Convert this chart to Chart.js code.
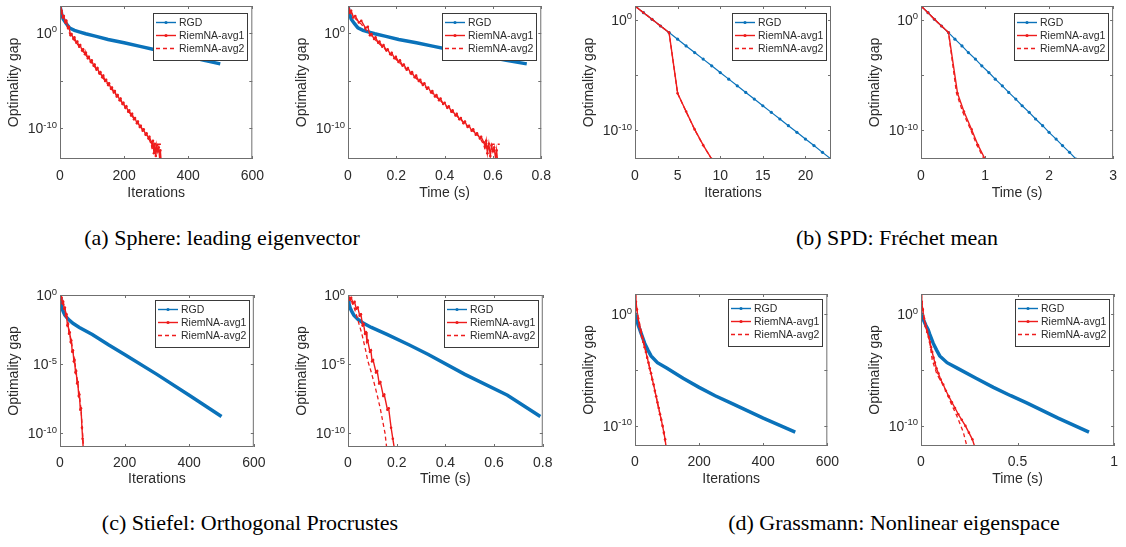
<!DOCTYPE html>
<html>
<head>
<meta charset="utf-8">
<script src="https://cdn.jsdelivr.net/npm/chart.js@4.4.1/dist/chart.umd.min.js"></script>
<style>
  body { margin: 0; background: #fff; }
  #fig { position: relative; width: 1126px; height: 547px; overflow: hidden; }
  #fig canvas { position: absolute; }
  .cap { position: absolute; width: 600px; text-align: center; font-family: "Liberation Serif", serif;
         font-size: 22px; line-height: 26px; color: #000; white-space: nowrap; }
</style>
</head>
<body>
<div id="fig"></div>
<script>
// ---- (a) Sphere: leading eigenvector ----
const sphereRgdIter = [0, 5, 10, 20, 30, 45, 60, 80, 110, 150, 200, 250, 300, 350, 400, 450, 500];
const sphereRgdTime = [0, 0.006, 0.013, 0.027, 0.041, 0.062, 0.083, 0.111, 0.153, 0.21, 0.283, 0.355, 0.428, 0.5, 0.575, 0.655, 0.74];
const sphereRgdGap = [630, 100, 28, 8.9, 3.2, 1.8, 1.26, 0.79, 0.45, 0.2, 0.089, 0.038, 0.016, 7.1e-3, 3.2e-3, 1.3e-3, 5.6e-4];

const sphereAvg1Iter = [0, 3, 5, 9, 12, 17, 20, 25, 28,
  33, 36, 42, 45, 51, 54, 60, 63, 69, 72,
  78, 81, 87, 90, 96, 99, 105, 108, 114, 117,
  123, 126, 132, 135, 141, 144, 150, 153, 159, 162,
  168, 171, 177, 180, 186, 189, 195, 198, 204, 207,
  213, 216, 222, 225, 231, 234, 240, 243, 249, 252,
  258, 261, 267, 270, 276, 279, 285,
  288, 290, 293, 296, 299, 302, 305, 308, 311, 313, 316];
const sphereAvg1Time = [0, 0.008, 0.013, 0.022, 0.03, 0.045, 0.055, 0.072, 0.082,
  0.091, 0.097, 0.108, 0.114, 0.125, 0.13, 0.142, 0.147, 0.159, 0.164,
  0.175, 0.181, 0.192, 0.198, 0.209, 0.215, 0.226, 0.231, 0.243, 0.248,
  0.26, 0.265, 0.276, 0.282, 0.293, 0.299, 0.31, 0.316, 0.327, 0.332,
  0.344, 0.349, 0.36, 0.366, 0.377, 0.383, 0.394, 0.4, 0.411, 0.417,
  0.428, 0.433, 0.445, 0.45, 0.461, 0.467, 0.478, 0.484, 0.495, 0.501,
  0.512, 0.518, 0.529, 0.534, 0.546, 0.551, 0.562,
  0.568, 0.572, 0.577, 0.583, 0.589, 0.594, 0.6, 0.605, 0.611, 0.615, 0.62];
const sphereAvg1Gap = [630, 126, 200, 40, 56, 12, 18, 3.2, 4.2,
  0.56, 0.75, 0.22, 0.33, 0.09, 0.12, 0.035, 0.052, 0.014, 0.019,
  5.6e-3, 8.1e-3, 2.2e-3, 3.1e-3, 8.9e-4, 1.3e-3, 3.5e-4, 4.8e-4, 1.4e-4, 2.1e-4,
  5.6e-5, 7.6e-5, 2.2e-5, 3.3e-5, 8.9e-6, 1.2e-5, 3.5e-6, 5.2e-6, 1.4e-6, 1.9e-6,
  5.6e-7, 8.1e-7, 2.2e-7, 3.1e-7, 8.9e-8, 1.3e-7, 3.5e-8, 4.8e-8, 1.4e-8, 2.1e-8,
  5.6e-9, 7.6e-9, 2.2e-9, 3.3e-9, 8.9e-10, 1.2e-9, 3.5e-10, 5.2e-10, 1.4e-10, 1.9e-10,
  5.6e-11, 8.1e-11, 2.2e-11, 3.1e-11, 8.9e-12, 1.3e-11, 3.5e-12,
  1.3e-12, 5e-12, 2.5e-13, 2.5e-12, 1.3e-13, 1.6e-12, 4e-13, 1e-12, 6.3e-14, 5e-13, 2.5e-14];

const sphereAvg2Iter = [0, 10, 20, 30, 50, 75, 100, 130, 160, 190, 220, 250, 275, 285, 288, 296, 320];
const sphereAvg2Time = [0, 0.025, 0.055, 0.088, 0.123, 0.17, 0.216, 0.273, 0.329, 0.385, 0.441, 0.497, 0.544, 0.562, 0.568, 0.583, 0.628];
const sphereAvg2Gap = [630, 40, 8, 0.8, 0.1, 7.9e-3, 6.3e-4, 2.8e-5, 1.4e-6, 7e-8, 3.2e-9, 1.6e-10, 1.26e-11, 2e-12, 5e-13, 2.2e-12, 2.2e-12];
const sphereGapLim = [6.3e-14, 631];

// ---- (b) SPD: Frechet mean ----
const spdRgdIter = [0, 1, 2, 3, 4, 5, 6, 7, 8, 9, 10, 11, 12, 13, 14, 15, 16, 17, 18, 19, 20, 21, 22, 23];
const spdRgdTime = [0, 0.11, 0.21, 0.32, 0.43, 0.53, 0.64, 0.74, 0.85, 0.95, 1.06, 1.16, 1.27, 1.37, 1.48, 1.58, 1.69, 1.79, 1.9, 2.0, 2.11, 2.21, 2.32, 2.42];
const spdRgdGap = [18.2, 4.5, 1.13, 0.28, 0.071, 0.018, 4.4e-3, 1.1e-3, 2.8e-4, 6.9e-5, 1.7e-5, 4.3e-6, 1.07e-6, 2.7e-7, 6.7e-8, 1.67e-8, 4.2e-9, 1.05e-9, 2.6e-10, 6.5e-11, 1.6e-11, 4.1e-12, 1.0e-12, 2.5e-13];
const spdAvg1Iter = [0, 1, 2, 3, 4, 5, 6, 7, 8, 9];
const spdAvg1Time = [0, 0.11, 0.21, 0.32, 0.43, 0.57, 0.67, 0.79, 0.89, 1.0];
const spdAvg1Gap = [18.2, 4.5, 1.13, 0.28, 0.071, 2.3e-7, 5e-9, 1.2e-10, 4.5e-12, 2.5e-13];
const spdAvg2Iter = [0, 1, 2, 3, 4, 5, 6, 7, 8, 9];
const spdAvg2Time = [0, 0.11, 0.21, 0.32, 0.43, 0.555, 0.65, 0.775, 0.875, 0.985];
const spdAvg2Gap = [18.2, 4.5, 1.13, 0.28, 0.071, 2.2e-7, 4.8e-9, 1.15e-10, 4.3e-12, 2.4e-13];
const spdGapLim = [2.5e-13, 18.2];

// ---- (c) Stiefel: Orthogonal Procrustes ----
const stiefelRgdIter = [0, 3, 6, 10, 15, 25, 40, 60, 100, 150, 200, 300, 400, 500];
const stiefelRgdTime = [0, 0.004, 0.009, 0.016, 0.024, 0.04, 0.064, 0.096, 0.16, 0.25, 0.33, 0.48, 0.655, 0.79];
const stiefelRgdGap = [0.63, 0.25, 0.112, 0.063, 0.035, 0.018, 8.9e-3, 4.5e-3, 1.4e-3, 2.5e-4, 5e-5, 1.8e-6, 5.6e-8, 1.6e-9];
const stiefelAvg1Iter = [0, 3, 5, 8, 10, 13, 15, 18, 20, 23, 25, 28, 30, 33, 35, 38, 40, 43, 45, 48, 50, 53, 55, 58, 60, 63, 65, 68, 70, 73];
const stiefelAvg1Time = [0, 0.008, 0.013, 0.021, 0.027, 0.034, 0.04, 0.048, 0.053, 0.06, 0.064, 0.07, 0.074, 0.078, 0.081,
  0.09, 0.094, 0.099, 0.103, 0.115, 0.12, 0.128, 0.133, 0.145, 0.149, 0.162, 0.167, 0.177, 0.184, 0.194];
const stiefelAvg1Gap = [1.0, 0.45, 0.63, 0.25, 0.32, 0.1, 0.126, 0.032, 0.04, 6.3e-3, 7.9e-3, 1.6e-3, 2e-3, 4e-4, 5e-4,
  7.9e-5, 1e-4, 1.6e-5, 2e-5, 2.5e-6, 3.2e-6, 4e-7, 5e-7, 5e-8, 6.3e-8, 5e-9, 6.3e-9, 2.5e-10, 4e-11, 3.2e-12];
const stiefelAvg2Iter = [0, 5, 10, 15, 20, 25, 30, 35, 40, 45, 50, 55, 60, 65, 70, 74];
const stiefelAvg2Time = [0, 0.008, 0.017, 0.026, 0.035, 0.046, 0.056, 0.064, 0.073, 0.081, 0.095, 0.107, 0.12, 0.133, 0.152, 0.161];
const stiefelAvg2Gap = [1.0, 0.5, 0.28, 0.112, 0.035, 7.1e-3, 1.8e-3, 4.5e-4, 8.9e-5, 1.8e-5, 2.8e-6, 4.5e-7, 5.6e-8, 5.6e-9, 1e-10, 4e-12];
const stiefelGapLim = [1e-11, 1];

// ---- (d) Grassmann: Nonlinear eigenspace ----
const grassRgdIter = [0, 5, 10, 15, 20, 30, 40, 50, 70, 100, 150, 200, 250, 300, 400, 500];
const grassRgdTime = [0, 0.012, 0.025, 0.037, 0.045, 0.063, 0.08, 0.097, 0.135, 0.19, 0.285, 0.375, 0.465, 0.55, 0.71, 0.87];
const grassRgdGap = [1.26, 0.32, 0.1, 0.04, 0.016, 2.5e-3, 6.3e-4, 1.8e-4, 4.5e-5, 1.4e-5, 1.8e-6, 2.8e-7, 5e-8, 1.1e-8, 5e-10, 2.8e-11];
const grassAvg1Iter = [0, 3, 6, 10, 14, 18, 22, 26, 30, 34, 38, 42, 46, 50, 54, 58, 62, 66, 70, 74, 78, 82, 86, 90, 94, 97];
const grassAvg1Time = [0, 0.004, 0.009, 0.016, 0.024, 0.032, 0.04, 0.046, 0.052, 0.058, 0.065, 0.072, 0.08,
  0.09, 0.102, 0.115, 0.129, 0.144, 0.16, 0.176, 0.193, 0.211, 0.23, 0.248, 0.266, 0.279];
const grassAvg1Gap = [63, 12.6, 2.5, 0.4, 0.079, 0.025, 8.9e-3, 3.2e-3, 1.1e-3, 4e-4, 1.26e-4, 4.5e-5, 1.4e-5,
  5e-6, 1.4e-6, 5e-7, 1.4e-7, 4.5e-8, 1.26e-8, 4e-9, 1.1e-9, 3.5e-10, 1e-10, 2.5e-11, 6.3e-12, 1.26e-12];
const grassAvg2Iter = [0, 10, 20, 30, 40, 50, 60, 70, 80, 90, 97];
const grassAvg2Time = [0, 0.016, 0.034, 0.048, 0.058, 0.082, 0.122, 0.155, 0.188, 0.219, 0.239];
const grassAvg2Gap = [63, 0.5, 0.03, 1.4e-3, 7.9e-5, 4.5e-6, 2.5e-7, 1.1e-8, 6.3e-10, 2.8e-11, 1.26e-12];
const grassGapLim = [1.6e-12, 62];

// ticks
const iterTicks = [0, 200, 400, 600];
const timeTicks = [0, 0.2, 0.4, 0.6, 0.8];
const spdIterTicks = [0, 5, 10, 15, 20];
const spdTimeTicks = [0, 1, 2, 3];
const grassTimeTicks = [0, 0.5, 1];
const gapTicks = [1, 1e-5, 1e-10];
const gapExpShort = ['0', '', '-10'];
const gapExpFull = ['0', '-5', '-10'];

const captions = ['(a) Sphere: leading eigenvector', '(b) SPD: Fréchet mean',
  '(c) Stiefel: Orthogonal Procrustes', '(d) Grassmann: Nonlinear eigenspace'];

const BLUE = '#0a72ba', RED = '#ee1c1c', AXIS = '#2b2b2b', BOX = '#6f6f6f';
const FONT = '"Liberation Sans", Arial, sans-serif';
Chart.defaults.font.family = FONT;
Chart.defaults.color = AXIS;

const rgdThick = { borderColor: BLUE, backgroundColor: BLUE, borderWidth: 3.5, pointRadius: 0, order: 3, dot: true };
const rgdDots = { borderColor: BLUE, backgroundColor: BLUE, borderWidth: 1.2, pointRadius: 1.6, pointBorderWidth: 0, order: 3, dot: true };
const avg1Style = { borderColor: RED, backgroundColor: RED, borderWidth: 1.4, pointRadius: 1.3, pointBorderWidth: 0, order: 1, dot: true };
const avg2Style = { borderColor: RED, backgroundColor: RED, borderWidth: 1.3, borderDash: [4, 3], pointRadius: 0, order: 2 };

const fig = document.getElementById('fig');

function series(xs, ys) {
  return xs.map((x, i) => ({ x: x, y: ys[i] }));
}

// box, inward ticks, 10^k labels and the legend, MATLAB style
function matlabAxes(p) {
  return {
    id: 'matlabAxes',
    afterDraw(chart) {
      const ctx = chart.ctx, a = chart.chartArea;
      const xs = chart.scales.x, ys = chart.scales.y;
      ctx.save();
      ctx.setLineDash([]);
      ctx.strokeStyle = BOX;
      ctx.lineWidth = 1;
      ctx.strokeRect(a.left + 0.5, a.top + 0.5, a.right - a.left - 1, a.bottom - a.top - 1);
      ctx.beginPath();
      p.xTicks.forEach(v => {
        const px = Math.round(xs.getPixelForValue(v)) + 0.5;
        ctx.moveTo(px, a.bottom); ctx.lineTo(px, a.bottom - 3);
        ctx.moveTo(px, a.top); ctx.lineTo(px, a.top + 3);
      });
      gapTicks.forEach(v => {
        const py = Math.round(ys.getPixelForValue(v)) + 0.5;
        ctx.moveTo(a.left, py); ctx.lineTo(a.left + 3, py);
        ctx.moveTo(a.right, py); ctx.lineTo(a.right - 3, py);
      });
      ctx.stroke();

      // y labels: 10 with a raised exponent
      ctx.fillStyle = AXIS;
      ctx.textAlign = 'right';
      gapTicks.forEach((v, i) => {
        const e = p.yExp[i];
        if (!e) return;
        const py = ys.getPixelForValue(v);
        ctx.font = '9.5px ' + FONT;
        const ew = ctx.measureText(e).width;
        ctx.textBaseline = 'alphabetic';
        ctx.fillText(e, a.left - 3, py - 0.5);
        ctx.font = '14px ' + FONT;
        ctx.textBaseline = 'middle';
        ctx.fillText('10', a.left - 3 - ew, py + 1);
      });

      // legend
      const bw = 94, bh = 47;
      const bx = Math.round(a.right - 5 - bw), by = Math.round(a.top + p.legTop);
      ctx.fillStyle = '#fff';
      ctx.fillRect(bx, by, bw, bh);
      ctx.strokeStyle = '#3a3a3a';
      ctx.strokeRect(bx + 0.5, by + 0.5, bw, bh);
      ctx.textAlign = 'left';
      ctx.textBaseline = 'middle';
      ctx.font = '10.5px ' + FONT;
      chart.data.datasets.forEach((ds, i) => {
        const ly = by + 9.5 + 13 * i;
        ctx.strokeStyle = ds.borderColor;
        ctx.lineWidth = 1.4;
        ctx.setLineDash(ds.borderDash || []);
        ctx.beginPath();
        ctx.moveTo(bx + 3, ly); ctx.lineTo(bx + 23, ly);
        ctx.stroke();
        ctx.setLineDash([]);
        if (ds.dot) {
          ctx.fillStyle = ds.borderColor;
          ctx.beginPath();
          ctx.arc(bx + 13, ly, 1.6, 0, Math.PI * 2);
          ctx.fill();
        }
        ctx.fillStyle = AXIS;
        ctx.fillText(ds.label, bx + 26, ly + 0.5);
      });
      ctx.restore();
    }
  };
}

function makePanel(p) {
  const cy = p.row === 0 ? 0 : 280;
  const cx = p.L - 60;
  const padR = Math.min(16, 1126 - p.R);
  const canvas = document.createElement('canvas');
  canvas.width = p.R + padR - cx;
  canvas.height = p.B + 46 - cy;
  canvas.style.left = cx + 'px';
  canvas.style.top = cy + 'px';
  fig.appendChild(canvas);

  new Chart(canvas, {
    type: 'line',
    data: {
      datasets: [
        Object.assign({ label: 'RGD', data: series(p.rgd[0], p.rgd[1]) }, p.thick ? rgdThick : rgdDots),
        Object.assign({ label: 'RiemNA-avg1', data: series(p.avg1[0], p.avg1[1]) }, avg1Style),
        Object.assign({ label: 'RiemNA-avg2', data: series(p.avg2[0], p.avg2[1]) }, avg2Style)
      ]
    },
    options: {
      responsive: false,
      animation: false,
      events: [],
      layout: { padding: { left: 0, top: p.T - cy, right: padR, bottom: 0 } },
      plugins: { legend: { display: false }, tooltip: { enabled: false } },
      scales: {
        x: {
          type: 'linear', min: p.xLim[0], max: p.xLim[1],
          afterBuildTicks: s => { s.ticks = p.xTicks.map(v => ({ value: v })); },
          afterFit: s => { s.height = 46; },
          grid: { display: false, drawTicks: false },
          border: { display: false },
          ticks: { padding: p.tickPad, font: { size: 14 }, color: AXIS, maxRotation: 0, autoSkip: false,
                   callback: v => String(Math.round(v * 100) / 100) },
          title: { display: true, text: p.xTitle, font: { size: 14 }, color: AXIS, padding: { top: 0, bottom: p.titlePad } }
        },
        y: {
          type: 'logarithmic', min: p.yLim[0], max: p.yLim[1],
          afterBuildTicks: s => { s.ticks = gapTicks.map(v => ({ value: v })); },
          afterFit: s => { s.width = 60; },
          grid: { display: false, drawTicks: false },
          border: { display: false },
          ticks: { display: false },
          title: { display: true, text: 'Optimality gap', font: { size: 14 }, color: AXIS, padding: { top: 5.6, bottom: 0 } }
        }
      }
    },
    plugins: [matlabAxes(p)]
  });
}

const row1 = { row: 0, T: 6, B: 159, legTop: 6.5, tickPad: 9, titlePad: 3.5 };
const row2c = { row: 1, T: 295, B: 447, legTop: 4.5, tickPad: 7.5, titlePad: 5 };
const row2d = { row: 1, T: 294, B: 446, legTop: 5, tickPad: 8, titlePad: 4.5 };

makePanel(Object.assign({ L: 60, R: 257, xTitle: 'Iterations', xLim: [0, 600], xTicks: iterTicks, yLim: sphereGapLim,
  yExp: gapExpShort, thick: true, rgd: [sphereRgdIter, sphereRgdGap], avg1: [sphereAvg1Iter, sphereAvg1Gap],
  avg2: [sphereAvg2Iter, sphereAvg2Gap] }, row1));
makePanel(Object.assign({ L: 348, R: 544, xTitle: 'Time (s)', xLim: [0, 0.8], xTicks: timeTicks, yLim: sphereGapLim,
  yExp: gapExpShort, thick: true, rgd: [sphereRgdTime, sphereRgdGap], avg1: [sphereAvg1Time, sphereAvg1Gap],
  avg2: [sphereAvg2Time, sphereAvg2Gap] }, row1));
makePanel(Object.assign({ L: 635, R: 831, xTitle: 'Iterations', xLim: [0, 23], xTicks: spdIterTicks, yLim: spdGapLim,
  yExp: gapExpShort, thick: false, rgd: [spdRgdIter, spdRgdGap], avg1: [spdAvg1Iter, spdAvg1Gap],
  avg2: [spdAvg2Iter, spdAvg2Gap] }, row1));
makePanel(Object.assign({ L: 921, R: 1119, xTitle: 'Time (s)', xLim: [0, 3], xTicks: spdTimeTicks, yLim: spdGapLim,
  yExp: gapExpShort, thick: false, rgd: [spdRgdTime, spdRgdGap], avg1: [spdAvg1Time, spdAvg1Gap],
  avg2: [spdAvg2Time, spdAvg2Gap] }, row1));

makePanel(Object.assign({ L: 60, R: 257, xTitle: 'Iterations', xLim: [0, 600], xTicks: iterTicks, yLim: stiefelGapLim,
  yExp: gapExpFull, thick: true, rgd: [stiefelRgdIter, stiefelRgdGap], avg1: [stiefelAvg1Iter, stiefelAvg1Gap],
  avg2: [stiefelAvg2Iter, stiefelAvg2Gap] }, row2c));
makePanel(Object.assign({ L: 348, R: 544, xTitle: 'Time (s)', xLim: [0, 0.8], xTicks: timeTicks, yLim: stiefelGapLim,
  yExp: gapExpFull, thick: true, rgd: [stiefelRgdTime, stiefelRgdGap], avg1: [stiefelAvg1Time, stiefelAvg1Gap],
  avg2: [stiefelAvg2Time, stiefelAvg2Gap] }, row2c));
makePanel(Object.assign({ L: 635, R: 831, xTitle: 'Iterations', xLim: [0, 600], xTicks: iterTicks, yLim: grassGapLim,
  yExp: gapExpShort, thick: true, rgd: [grassRgdIter, grassRgdGap], avg1: [grassAvg1Iter, grassAvg1Gap],
  avg2: [grassAvg2Iter, grassAvg2Gap] }, row2d));
makePanel(Object.assign({ L: 921, R: 1119, xTitle: 'Time (s)', xLim: [0, 1], xTicks: grassTimeTicks, yLim: grassGapLim,
  yExp: gapExpShort, thick: true, rgd: [grassRgdTime, grassRgdGap], avg1: [grassAvg1Time, grassAvg1Gap],
  avg2: [grassAvg2Time, grassAvg2Gap] }, row2d));

// subfigure captions
const capCenters = [222, 897, 250, 894];
const capTops = [225, 225, 510, 510];
captions.forEach((text, i) => {
  const d = document.createElement('div');
  d.className = 'cap';
  d.textContent = text;
  d.style.left = (capCenters[i] - 300) + 'px';
  d.style.top = capTops[i] + 'px';
  fig.appendChild(d);
});
</script>
</body>
</html>
